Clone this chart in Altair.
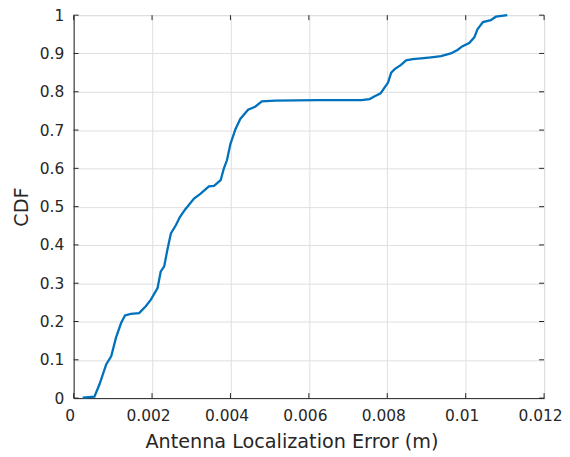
import altair as alt
import pandas as pd

# CDF curve
err = [0.00023, 0.00053, 0.00066, 0.00083, 0.00096, 0.00108, 0.00121, 0.00131, 0.00146,
       0.00167, 0.00184, 0.00197, 0.00214, 0.00222, 0.00231, 0.00239, 0.00248, 0.00261,
       0.00271, 0.00284, 0.00307, 0.00324, 0.00345, 0.00358, 0.00375, 0.00383, 0.00391,
       0.00400, 0.00413, 0.00425, 0.00445, 0.00463, 0.00480, 0.00514, 0.00624, 0.00734,
       0.00755, 0.00768, 0.00783, 0.00793, 0.00802, 0.00810, 0.00819, 0.00835, 0.00848,
       0.00865, 0.00886, 0.00912, 0.00937, 0.00962, 0.00979, 0.00992, 0.01009, 0.01022,
       0.01030, 0.01044, 0.01064, 0.01077, 0.01106]
cdf = [0.001, 0.004, 0.036, 0.088, 0.110, 0.158, 0.196, 0.216, 0.220,
       0.222, 0.240, 0.257, 0.287, 0.330, 0.344, 0.387, 0.430, 0.452,
       0.473, 0.492, 0.521, 0.534, 0.553, 0.554, 0.569, 0.599, 0.621,
       0.664, 0.703, 0.729, 0.753, 0.761, 0.775, 0.777, 0.778, 0.778,
       0.781, 0.788, 0.796, 0.811, 0.824, 0.850, 0.859, 0.870, 0.882,
       0.885, 0.887, 0.890, 0.893, 0.900, 0.909, 0.919, 0.927, 0.942,
       0.963, 0.982, 0.987, 0.996, 1.000]

x_ticks = [0, 0.002, 0.004, 0.006, 0.008, 0.010, 0.012]
y_ticks = [0, 0.1, 0.2, 0.3, 0.4, 0.5, 0.6, 0.7, 0.8, 0.9, 1.0]

W, H = 473, 385
TXT = "#262626"
FONT = "DejaVu Sans"

df = pd.DataFrame({"err": err, "cdf": cdf})
xt = pd.DataFrame({"err": x_ticks})
yt = pd.DataFrame({"cdf": y_ticks})

xscale = alt.Scale(domain=[0, 0.012], nice=False, zero=False)
yscale = alt.Scale(domain=[0, 1], nice=False)

common = dict(labelExpr="format(datum.value, '~g')", labelFontSize=15.5, titleFontSize=19.3,
              ticks=False, domainColor=TXT, labelColor=TXT, titleColor=TXT,
              gridColor="#dfdfdf", gridOpacity=1, labelFont=FONT, titleFont=FONT,
              titleFontWeight="normal", labelOverlap=False, labelFlush=False)

xaxis = alt.Axis(title="Antenna Localization Error (m)", values=x_ticks,
                 labelPadding=11, titlePadding=8, labelOffset=-4,
                 titleX=219, titleAlign="center", titleAnchor="middle", **common)
yaxis = alt.Axis(title="CDF", values=y_ticks, labelPadding=10, titlePadding=8, **common)

line = alt.Chart(df).mark_line(color="#0072BD", strokeWidth=2.3, interpolate="linear").encode(
    x=alt.X("err:Q", scale=xscale, axis=xaxis),
    y=alt.Y("cdf:Q", scale=yscale, axis=yaxis),
)

tb = alt.Chart(xt).mark_rule(color=TXT, strokeWidth=1).encode(
    x=alt.X("err:Q", scale=xscale, axis=xaxis), y=alt.value(H), y2=alt.value(H - 5))
tt = alt.Chart(xt).mark_rule(color=TXT, strokeWidth=1).encode(
    x=alt.X("err:Q", scale=xscale, axis=xaxis), y=alt.value(0), y2=alt.value(5))
tl = alt.Chart(yt).mark_rule(color=TXT, strokeWidth=1).encode(
    y=alt.Y("cdf:Q", scale=yscale, axis=yaxis), x=alt.value(0), x2=alt.value(5))
tr = alt.Chart(yt).mark_rule(color=TXT, strokeWidth=1).encode(
    y=alt.Y("cdf:Q", scale=yscale, axis=yaxis), x=alt.value(W), x2=alt.value(W - 5))

chart = alt.layer(line, tb, tt, tl, tr).properties(
    width=W, height=H,
    autosize=alt.AutoSizeParams(type="none"),
    padding={"left": 66, "top": 6, "right": 18, "bottom": 56},
).configure_view(stroke=TXT, strokeWidth=1).configure(background="white")

chart.save("out.html", embed_options={"renderer": "svg", "actions": False})
